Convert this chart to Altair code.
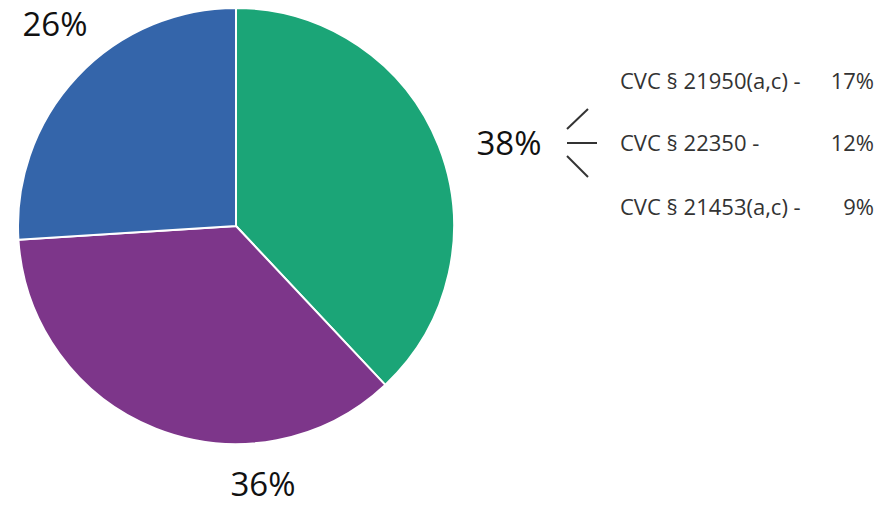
import altair as alt
import pandas as pd

categories = ["A", "B", "C"]
shares = [38, 36, 26]
colors = ["#1ba577", "#7d368a", "#3465aa"]
pie_labels = ["38%", "36%", "26%"]

sub_names = ["CVC § 21950(a,c) -", "CVC § 22350 -", "CVC § 21453(a,c) -"]
sub_values = ["17%", "12%", "9%"]

W, H = 879, 489
CX, CY, R = 228, 218, 218
FONT = "Open Sans"

df = pd.DataFrame({"cat": categories, "share": shares, "order": [0, 1, 2]})

pie = alt.Chart(df).mark_arc(stroke="white", strokeWidth=2, outerRadius=R).encode(
    theta=alt.Theta("share:Q", stack=True),
    order=alt.Order("order:Q"),
    color=alt.Color("cat:N", scale=alt.Scale(domain=categories, range=colors), legend=None),
    x=alt.value(CX),
    y=alt.value(CY),
)

label_pos = [(501, 147), (255, 488), (47, 28)]
layers = [pie]
for lab, (lx, ly) in zip(pie_labels, label_pos):
    layers.append(
        alt.Chart(pd.DataFrame({"t": [lab]})).mark_text(
            font=FONT, fontSize=33, color="#111111", align="center", baseline="alphabetic"
        ).encode(text="t:N", x=alt.value(lx), y=alt.value(ly))
    )

# bracket strokes
for (x1, y1, x2, y2) in [(559, 121, 580, 101), (559, 135, 589, 135), (559, 148, 580, 169)]:
    layers.append(
        alt.Chart(pd.DataFrame({"a": [0]})).mark_rule(color="#333333", strokeWidth=2).encode(
            x=alt.value(x1), y=alt.value(y1), x2=alt.value(x2), y2=alt.value(y2)
        )
    )

sub_y = [80.5, 143, 207]
for name, val, sy in zip(sub_names, sub_values, sub_y):
    layers.append(
        alt.Chart(pd.DataFrame({"t": [name]})).mark_text(
            font=FONT, fontSize=22, color="#333333", align="left", baseline="alphabetic"
        ).encode(text="t:N", x=alt.value(612), y=alt.value(sy))
    )
    layers.append(
        alt.Chart(pd.DataFrame({"t": [val]})).mark_text(
            font=FONT, fontSize=22, color="#333333", align="right", baseline="alphabetic"
        ).encode(text="t:N", x=alt.value(866), y=alt.value(sy))
    )

chart = alt.layer(*layers).properties(
    width=W, height=H, autosize=alt.AutoSizeParams(type="none"), padding=0
).configure_view(stroke=None)

chart.save("out.html", embed_options={"renderer": "svg", "actions": False})
